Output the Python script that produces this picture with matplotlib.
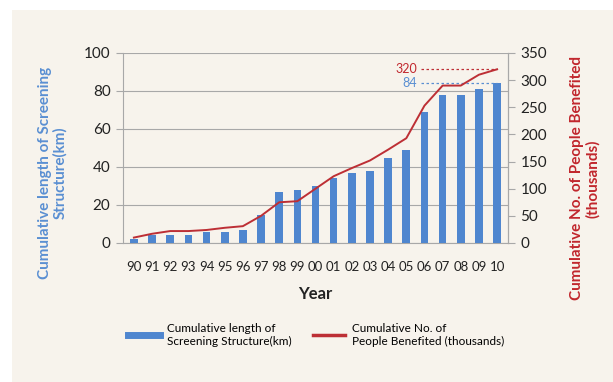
import matplotlib.pyplot as plt
from matplotlib.patches import Rectangle
from matplotlib.lines import Line2D

plt.rcParams['font.family'] = ['Lato', 'DejaVu Sans']

years = ['90', '91', '92', '93', '94', '95', '96', '97', '98', '99', '00',
         '01', '02', '03', '04', '05', '06', '07', '08', '09', '10']
length_km = [2, 4, 4, 4, 6, 6, 7, 15, 27, 28, 30,
             34, 37, 38, 45, 49, 69, 78, 78, 81, 84]
people_k = [10, 17, 22, 22, 24, 28, 31, 50, 75, 77, 100,
            123, 138, 152, 172, 193, 253, 290, 290, 310, 320]

bar_color = '#4f86cf'
line_color = '#bd2f35'
blue_txt = '#5a8fd2'
red_txt = '#c1272d'
grid_c = '#a8a8a8'
bg = '#f7f3ec'

fig = plt.figure(figsize=(6.13, 3.82), dpi=100)
fig.patches.append(Rectangle((12 / 613, 0), 1, 1 - 10 / 382, transform=fig.transFigure,
                             facecolor=bg, edgecolor='none', zorder=-10))

ax = fig.add_axes([123 / 613, 1 - 243 / 382, 385 / 613, 190 / 382])
ax.set_facecolor('none')
x = range(len(years))
ax.bar(x, length_km, width=0.42, color=bar_color, zorder=3)
ax.set_ylim(0, 100)
ax.set_xlim(-0.6, len(years) - 0.4)
ax.set_yticks(range(0, 101, 20))
ax.set_xticks(list(x))
ax.set_xticklabels(years)
ax.yaxis.grid(True, color=grid_c, linewidth=0.8, zorder=0)
ax.tick_params(axis='x', length=0, pad=13, labelsize=9.5, colors='#222222')
ax.tick_params(axis='y', length=5, width=0.8, color=grid_c, labelsize=11, colors='#222222', pad=4)
ax.spines['top'].set_visible(False)
for s in ['left', 'bottom', 'right']:
    ax.spines[s].set_color(grid_c)
    ax.spines[s].set_linewidth(0.8)
ax.set_xlabel('Year', fontsize=12, fontweight='bold', labelpad=9, color='#222222')
ax.set_ylabel('Cumulative length of Screening\nStructure(km)', fontsize=11,
              fontweight='bold', color=blue_txt, linespacing=1.1, va='center')
ax.yaxis.set_label_coords(-0.182, 0.37)

ax2 = ax.twinx()
ax2.plot(list(x), people_k, color=line_color, linewidth=1.4, zorder=4)
ax2.set_ylim(0, 350)
ax2.set_yticks(range(0, 351, 50))
ax2.tick_params(axis='y', length=5, width=0.8, color=grid_c, labelsize=11, colors='#222222', pad=4)
for s in ['top', 'left', 'bottom']:
    ax2.spines[s].set_visible(False)
ax2.spines['right'].set_color(grid_c)
ax2.spines['right'].set_linewidth(0.8)
ax2.set_ylabel('Cumulative No. of People Benefited\n(thousands)', fontsize=11,
               fontweight='bold', color=red_txt, linespacing=1.1, va='center')
ax2.yaxis.set_label_coords(1.2, 0.34)

# dashed markers for the final values
last = len(years) - 1
ax2.plot([last - 4.2, last], [people_k[-1], people_k[-1]], color=line_color,
         linestyle=(0, (2, 2)), linewidth=0.9)
ax2.text(last - 4.4, people_k[-1], str(people_k[-1]), color=red_txt, fontsize=9,
         ha='right', va='center')
ax.plot([last - 4.2, last], [length_km[-1], length_km[-1]], color=blue_txt,
        linestyle=(0, (2, 2)), linewidth=0.9, zorder=5)
ax.text(last - 4.4, length_km[-1], str(length_km[-1]), color=blue_txt, fontsize=9,
        ha='right', va='center')

handles = [Line2D([0], [0], color=bar_color, linewidth=5),
           Line2D([0], [0], color=line_color, linewidth=2.5)]
labels = ['Cumulative length of\nScreening Structure(km)',
          'Cumulative No. of\nPeople Benefited (thousands)']
fig.legend(handles, labels, loc='center', bbox_to_anchor=(316 / 613, 1 - 335 / 382),
           ncol=2, frameon=False, fontsize=8.5, handlelength=2.7, columnspacing=1.8,
           handletextpad=0.6, labelspacing=0.2)

fig.savefig('out.png', dpi=100)
